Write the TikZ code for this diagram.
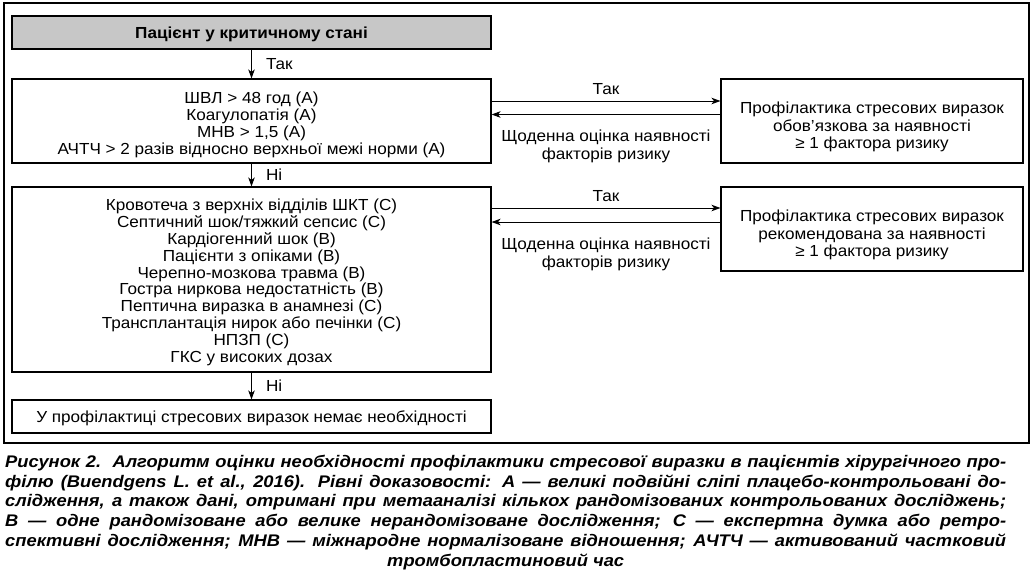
\documentclass[tikz,border=0pt]{standalone}
\usepackage{fontspec}
\setmainfont{Liberation Sans}
\newfontfamily\boxfont{Liberation Sans}[FakeStretch=1.07]
\newfontfamily\capfont{Liberation Sans}[FakeStretch=1.09]
\usepackage{tikz}
\usetikzlibrary{arrows.meta,positioning,calc}
\AtBeginDocument{\setlength{\lineskiplimit}{-100pt}}
\newcommand\topgap[1]{\rule{0pt}{#1}}

\begin{document}
\begin{tikzpicture}[x=1pt, y=-1pt,
    box/.style={rectangle, draw, line width=1.1pt, inner sep=0pt, align=center, minimum width=479pt, text depth=0pt, font=\boxfont\fontsize{16}{16.8}\selectfont},
    sidebox/.style={box, minimum width=302pt, minimum height=84pt, font=\boxfont\fontsize{16}{17.2}\selectfont},
    arrow/.style={-{Stealth[length=9pt, width=6.5pt, inset=2.5pt]}, line width=1pt},
    lbl/.style={font=\boxfont\fontsize{16}{18}\selectfont, align=center, inner sep=0pt},
    capt/.style={anchor=north west, inner sep=0pt, text width=1001pt, align=justify, font=\capfont\fontsize{16.8}{19.7}\selectfont\bfseries\itshape}
]
\definecolor{boxgray}{gray}{0.78}
\useasboundingbox (0,0) rectangle (1033,578);

% outer frame
\draw[line width=1.1pt] (4,3) rectangle (1029,443);

% main column
\node[box, fill=boxgray, minimum height=33pt, font=\boxfont\fontsize{16}{16.8}\selectfont\bfseries] (patient) at (251.5,32.5) {Пацієнт у критичному стані};
\node[box, minimum height=84pt] (crit1) at (251.5,121) {\topgap{16pt}ШВЛ > 48 год (А)\\
    Коагулопатія (А)\\
    МНВ > 1,5 (А)\\
    АЧТЧ > 2 разів відносно верхньої межі норми (А)};
\node[box, minimum height=185pt, font=\boxfont\fontsize{16}{16.9}\selectfont] (crit2) at (251.5,279.5) {\topgap{14pt}Кровотеча з верхніх відділів ШКТ (С)\\
    Септичний шок/тяжкий сепсис (С)\\
    Кардіогенний шок (В)\\
    Пацієнти з опіками (В)\\
    Черепно-мозкова травма (В)\\
    Гостра ниркова недостатність (В)\\
    Пептична виразка в анамнезі (С)\\
    Трансплантація нирок або печінки (С)\\
    НПЗП (С)\\
    ГКС у високих дозах};
\node[box, minimum height=33pt] (none) at (251.5,416.5) {У профілактиці стресових виразок немає необхідності};

% right column
\node[sidebox] (prof1) at (872,121) {\topgap{20pt}Профілактика стресових виразок\\
    обов’язкова за наявності\\
    ≥ 1 фактора ризику};
\node[sidebox] (prof2) at (872,229) {\topgap{20pt}Профілактика стресових виразок\\
    рекомендована за наявності\\
    ≥ 1 фактора ризику};

% downward arrows
\draw[arrow] (patient) -- node[lbl, right=14pt] {Так} (crit1);
\draw[arrow] (crit1) -- node[lbl, right=14pt] {Ні} (crit2);
\draw[arrow] (crit2) -- node[lbl, right=14pt] {Ні} (none);

% arrows to the right and back
\draw[arrow] ([yshift=20pt]crit1.east) -- node[lbl, above=6pt] {Так} ([yshift=20pt]prof1.west);
\draw[arrow] ([yshift=6.5pt]prof1.west) -- node[lbl, below=15pt] {Щоденна оцінка наявності\\факторів ризику} ([yshift=6.5pt]crit1.east);
\draw[arrow] ([yshift=21pt]prof2.west -| crit2.east) -- node[lbl, above=6pt] {Так} ([yshift=21pt]prof2.west);
\draw[arrow] ([yshift=7pt]prof2.west) -- node[lbl, below=15pt] {Щоденна оцінка наявності\\факторів ризику} ([yshift=7pt]prof2.west -| crit2.east);

% caption
\node[capt] (caption) at (5,455) {\parfillskip=0pt \pretolerance=-1 \tolerance=10000 \hyphenpenalty=10000 \exhyphenpenalty=10000
    Рисунок 2.\ \ Алгоритм оцінки необхідності профілактики стресової виразки в пацієнтів хірургічного про-\linebreak
    філю (Buendgens L. et al., 2016). Рівні доказовості: А — великі подвійні сліпі плацебо-контрольовані до-\linebreak
    слідження, а також дані, отримані при метааналізі кількох рандомізованих контрольованих досліджень;\linebreak
    В — одне рандомізоване або велике нерандомізоване дослідження; С — експертна думка або ретро-\linebreak
    спективні дослідження; МНВ — міжнародне нормалізоване відношення; АЧТЧ — активований частковий\par
    \centering тромбопластиновий час\par};

\end{tikzpicture}
\end{document}
